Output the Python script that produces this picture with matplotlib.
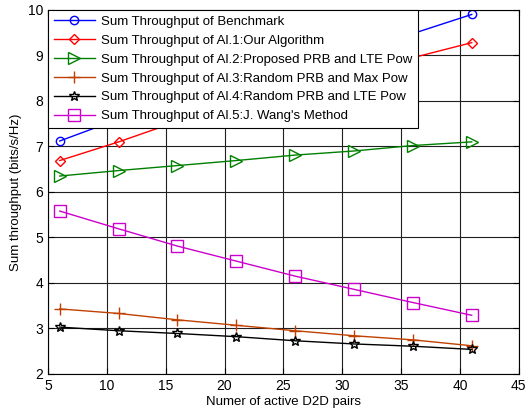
import matplotlib.pyplot as plt

plt.rcParams['font.family'] = ['Liberation Sans', 'DejaVu Sans']

# number of active D2D pairs
pairs = [6, 11, 16, 21, 26, 31, 36, 41]

# sum throughput (bits/s/Hz) for each scheme
benchmark = [7.12, 7.6, 8.0, 8.4, 8.75, 9.1, 9.48, 9.9]
al1 = [6.69, 7.1, 7.55, 7.9, 8.25, 8.6, 8.95, 9.28]
al2 = [6.35, 6.47, 6.58, 6.69, 6.81, 6.90, 7.02, 7.10]
al3 = [3.43, 3.33, 3.19, 3.07, 2.95, 2.84, 2.75, 2.62]
al4 = [3.03, 2.95, 2.89, 2.82, 2.73, 2.66, 2.61, 2.54]
al5 = [5.58, 5.19, 4.81, 4.48, 4.15, 3.86, 3.57, 3.29]

labels = ["Sum Throughput of Benchmark",
          "Sum Throughput of Al.1:Our Algorithm",
          "Sum Throughput of Al.2:Proposed PRB and LTE Pow",
          "Sum Throughput of Al.3:Random PRB and Max Pow",
          "Sum Throughput of Al.4:Random PRB and LTE Pow",
          "Sum Throughput of Al.5:J. Wang's Method"]

fig = plt.figure(figsize=(5.32, 4.18), dpi=100)
ax = fig.add_axes([0.0902, 0.1053, 0.885, 0.871])

ax.plot(pairs, benchmark, color='#0000ff', marker='o', mfc='none', ms=6, lw=1, label=labels[0])
ax.plot(pairs, al1, color='#ff0000', marker='D', mfc='none', ms=5.5, lw=1, label=labels[1])
ax.plot(pairs, al2, color='#008000', marker='>', mfc='none', ms=8, lw=1, label=labels[2])
ax.plot(pairs, al3, color='#c04000', marker='+', ms=9, lw=1, label=labels[3])
ax.plot(pairs, al4, color='#000000', marker='*', mfc='none', ms=7.5, lw=1, label=labels[4])
ax.plot(pairs, al5, color='#cc00cc', marker='s', mfc='none', ms=8, lw=1, label=labels[5])

ax.set_xlim(5, 45)
ax.set_ylim(2, 10)
ax.set_xticks(range(5, 46, 5))
ax.set_yticks(range(2, 11))
ax.grid(True, color='#202020', lw=0.8)
ax.tick_params(direction='in', top=True, right=True, labelsize=10, length=4)
for s in ax.spines.values():
    s.set_linewidth(0.8)

ax.set_xlabel("Numer of active D2D pairs", fontsize=9.5, labelpad=2)
ax.set_ylabel("Sum throughput (bits/s/Hz)", fontsize=9.5, labelpad=4)

leg = ax.legend(loc='upper left', fontsize=9.5, borderaxespad=0, fancybox=False,
                framealpha=1, edgecolor='black', handlelength=3.1,
                labelspacing=0.5, borderpad=0.45, handletextpad=0.45)
leg.get_frame().set_linewidth(0.8)

fig.savefig('out.png', dpi=100)
